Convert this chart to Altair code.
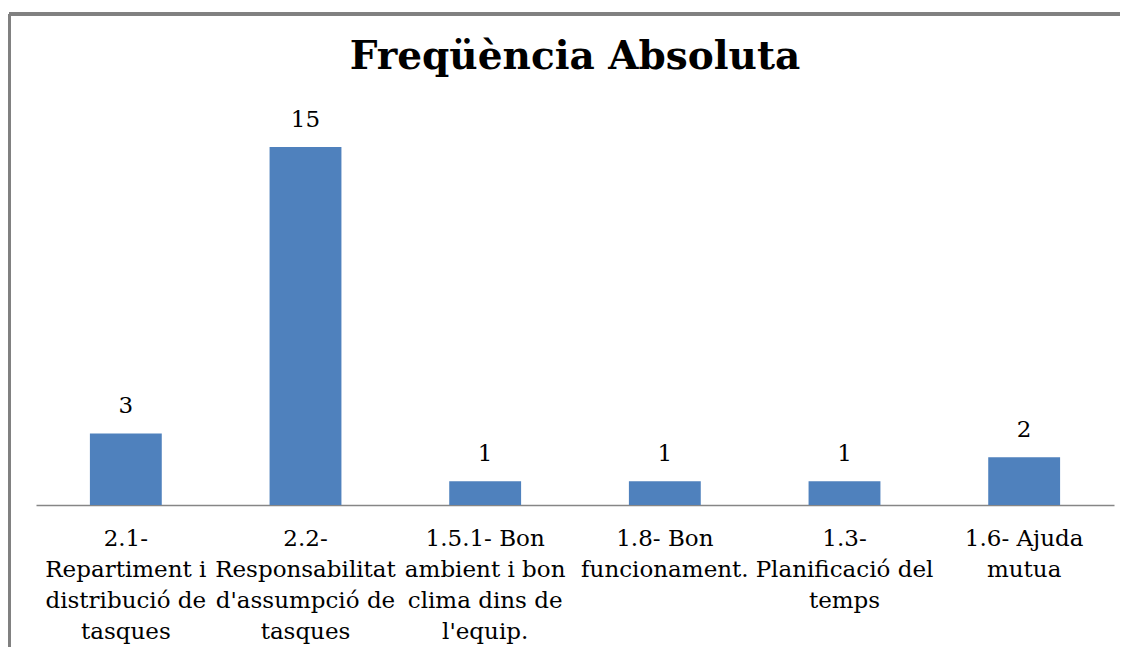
import altair as alt
import pandas as pd

categories = [
    "2.1-|Repartiment i|distribució de|tasques",
    "2.2-|Responsabilitat|d'assumpció de|tasques",
    "1.5.1- Bon|ambient i bon|clima dins de|l'equip.",
    "1.8- Bon|funcionament.",
    "1.3-|Planificació del|temps",
    "1.6- Ajuda|mutua",
]
values = [3, 15, 1, 1, 1, 2]

df = pd.DataFrame({"cat": categories, "val": values})

W, H = 1078, 382
SERIF = "DejaVu Serif"

x_enc = alt.X(
    "cat:N",
    sort=None,
    title=None,
    scale=alt.Scale(paddingInner=0.6, paddingOuter=0.3),
    axis=alt.Axis(
        labelExpr="split(datum.label, '|')",
        labelAngle=0,
        labelFont=SERIF,
        labelFontSize=23,
        labelColor="#000000",
        labelLineHeight=31,
        labelPadding=22,
        labelBaseline="top",
        ticks=False,
        grid=False,
        domainColor="#868686",
        domainWidth=1.5,
        labelLimit=400,
    ),
)
y_enc = alt.Y(
    "val:Q",
    scale=alt.Scale(domain=[0, 16], nice=False),
    axis=None,
)

bars = alt.Chart(df).mark_bar(color="#4F81BD").encode(x=x_enc, y=y_enc)
labels = alt.Chart(df).mark_text(
    font=SERIF, fontSize=23, baseline="bottom", dy=-15, color="#000000"
).encode(x=alt.X("cat:N", sort=None), y="val:Q", text="val:Q")

frame_top = alt.Chart(df).mark_rule(color="#808080", strokeWidth=3).encode(
    x=alt.value(-27), x2=alt.value(W + 20), y=alt.value(-109)
)
frame_left = alt.Chart(df).mark_rule(color="#808080", strokeWidth=3).encode(
    x=alt.value(-27), y=alt.value(-109), y2=alt.value(H + 160)
)

chart = (
    alt.layer(frame_top, frame_left, bars, labels)
    .properties(
        width=W,
        height=H,
        view=alt.ViewBackground(stroke="transparent", strokeWidth=0),
        title=alt.TitleParams(
            "Freqüència Absoluta",
            font=SERIF,
            fontSize=39,
            fontWeight="bold",
            color="#000000",
            anchor="middle",
            baseline="alphabetic",
            offset=0,
            dy=95,
        ),
        autosize=alt.AutoSizeParams(type="none"),
        padding={"left": 28, "top": 115, "right": 6, "bottom": 142},
    )
    .configure_view(stroke="transparent", strokeWidth=0)
    .configure(background="#FFFFFF")
)

chart.save("out.html", embed_options={"renderer": "svg", "actions": False})
